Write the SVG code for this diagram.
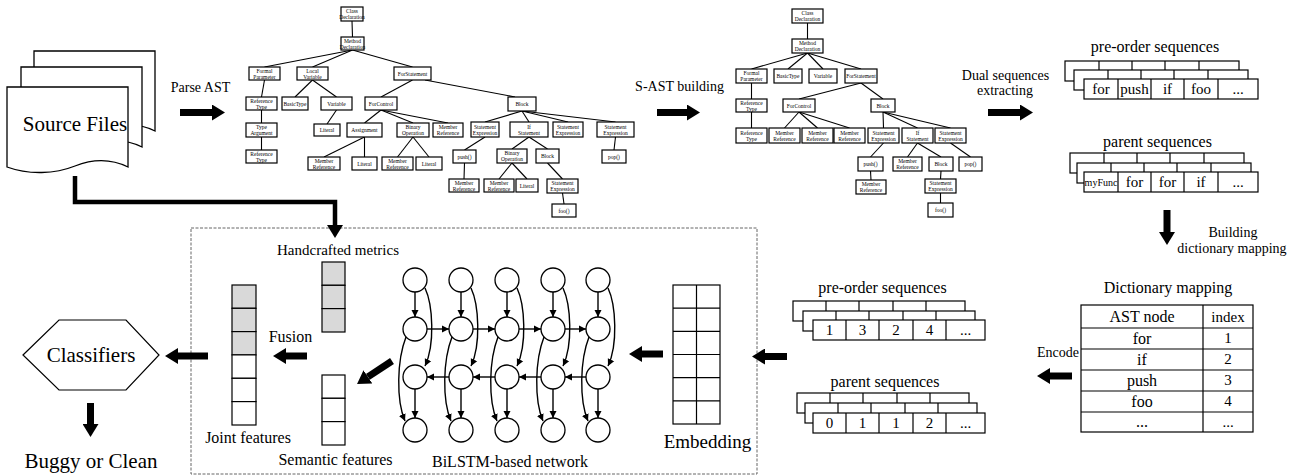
<svg xmlns="http://www.w3.org/2000/svg" width="1300" height="476" viewBox="0 0 1300 476" font-family="'Liberation Serif', 'DejaVu Serif', serif">
<defs>
<style>
text{font-family:'Liberation Serif','DejaVu Serif',serif;fill:#000}
.m{text-anchor:middle}
.tn rect{fill:#fff;stroke:#000;stroke-width:1.2}
.tn text{font-size:5.5px;text-anchor:middle}
.edges line{stroke:#000;stroke-width:1.1}
.big{stroke:#000;stroke-width:7;fill:none;marker-end:url(#ah)}
.thin{stroke:#000;stroke-width:1.4;fill:none;marker-end:url(#sa)}
.box{fill:#fff;stroke:#000;stroke-width:1.2}
.g{fill:#d9d9d9;stroke:#000;stroke-width:1.2}
.w{fill:#fff;stroke:#000;stroke-width:1.2}
.doc{fill:#fff;stroke:#000;stroke-width:1.3}
.cir{fill:#fff;stroke:#000;stroke-width:1.3}
.l16{font-size:16px}
.l14{font-size:14px}
.l21{font-size:21px}
.c15{font-size:15px;text-anchor:middle}
</style>
<marker id="ah" markerUnits="userSpaceOnUse" markerWidth="14" markerHeight="16" refX="0" refY="8" orient="auto"><path d="M0,0 L13,8 L0,16 z" fill="#000"/></marker>
<marker id="sa" markerUnits="userSpaceOnUse" markerWidth="8" markerHeight="8" refX="7" refY="4" orient="auto"><path d="M0,0.5 L7,4 L0,7.5 z" fill="#000"/></marker>
<g id="r174"><rect x="0" y="0" width="174" height="20" class="box"/><path d="M34,0V20M67,0V20M100,0V20M134,0V20" stroke="#000" stroke-width="1.2"/></g>
<g id="r172"><rect x="0" y="0" width="172" height="20" class="box"/><path d="M33,0V20M66,0V20M100,0V20M133,0V20" stroke="#000" stroke-width="1.2"/></g>
<path id="docshape" d="M0,0 H121 V80 C105,72 88,71 68,79 C48,87 22,88 0,80 Z"/>
</defs>
<rect width="1300" height="476" fill="#fff"/>

<!-- Source files -->
<g id="source-files">
<use href="#docshape" x="34" y="51" class="doc"/>
<use href="#docshape" x="21" y="67" class="doc"/>
<use href="#docshape" x="7" y="87" class="doc"/>
<text x="75" y="131" class="m l21">Source Files</text>
</g>

<!-- dashed container -->
<rect id="model-box" x="191" y="228" width="566" height="246" fill="none" stroke="#666" stroke-width="1" stroke-dasharray="3,1.5"/>

<!-- connectors -->
<g id="connectors">
<g class="edges">
<line x1="352" y1="21" x2="352.5" y2="37"/>
<line x1="352.5" y1="50" x2="264.5" y2="67"/>
<line x1="352.5" y1="50" x2="312.5" y2="67"/>
<line x1="352.5" y1="50" x2="412.5" y2="67"/>
<line x1="264.5" y1="80" x2="261.5" y2="97"/>
<line x1="261.5" y1="110" x2="261.5" y2="123"/>
<line x1="261.5" y1="137" x2="261.5" y2="150"/>
<line x1="312.5" y1="80" x2="295" y2="97"/>
<line x1="312.5" y1="80" x2="336.5" y2="97"/>
<line x1="336.5" y1="110" x2="327" y2="124"/>
<line x1="412.5" y1="80" x2="381" y2="97"/>
<line x1="425" y1="80" x2="515" y2="97"/>
<line x1="381" y1="110" x2="364.5" y2="123"/>
<line x1="381" y1="110" x2="413" y2="123"/>
<line x1="381" y1="110" x2="448" y2="123"/>
<line x1="364.5" y1="137" x2="324" y2="157"/>
<line x1="364.5" y1="137" x2="364.5" y2="157"/>
<line x1="413" y1="137" x2="397.5" y2="157"/>
<line x1="413" y1="137" x2="429" y2="157"/>
<line x1="522" y1="111" x2="485" y2="122"/>
<line x1="522" y1="111" x2="529" y2="122"/>
<line x1="522" y1="111" x2="568" y2="122"/>
<line x1="522" y1="111" x2="615.5" y2="122"/>
<line x1="485" y1="137" x2="464.5" y2="150"/>
<line x1="464.5" y1="163" x2="464" y2="179"/>
<line x1="529" y1="137" x2="512" y2="149"/>
<line x1="529" y1="137" x2="547.5" y2="149"/>
<line x1="512" y1="163" x2="499" y2="179"/>
<line x1="512" y1="163" x2="527" y2="179"/>
<line x1="547.5" y1="163" x2="562.5" y2="179"/>
<line x1="562.5" y1="193" x2="564" y2="204"/>
<line x1="615.5" y1="137" x2="614" y2="150"/>
</g>
<g class="edges">
<line x1="807.5" y1="23" x2="807.5" y2="39"/>
<line x1="807.5" y1="53" x2="751.5" y2="69"/>
<line x1="807.5" y1="53" x2="788" y2="69"/>
<line x1="807.5" y1="53" x2="823" y2="69"/>
<line x1="807.5" y1="53" x2="861" y2="69"/>
<line x1="751.5" y1="83" x2="751.5" y2="99"/>
<line x1="751.5" y1="112" x2="751.5" y2="128"/>
<line x1="861" y1="83" x2="799" y2="99"/>
<line x1="861" y1="83" x2="883" y2="99"/>
<line x1="799" y1="112" x2="784.5" y2="128"/>
<line x1="799" y1="112" x2="817.5" y2="128"/>
<line x1="799" y1="112" x2="849.5" y2="128"/>
<line x1="883" y1="112" x2="883.5" y2="128"/>
<line x1="883" y1="112" x2="917.5" y2="128"/>
<line x1="883" y1="112" x2="950.5" y2="128"/>
<line x1="883.5" y1="143" x2="870.5" y2="157"/>
<line x1="870.5" y1="171" x2="871" y2="180"/>
<line x1="917.5" y1="143" x2="907.5" y2="157"/>
<line x1="917.5" y1="143" x2="941" y2="157"/>
<line x1="941" y1="171" x2="940.5" y2="179"/>
<line x1="940.5" y1="193" x2="940.5" y2="203"/>
<line x1="950.5" y1="143" x2="970.5" y2="157"/>
</g>
<!-- big flow arrows -->
<line class="big" x1="180" y1="112.5" x2="212" y2="112.5"/>
<line class="big" x1="657" y1="112.5" x2="687" y2="112.5"/>
<line class="big" x1="988" y1="112.5" x2="1020" y2="112.5"/>
<line class="big" x1="1167" y1="210" x2="1167" y2="232"/>
<line class="big" x1="1072" y1="376" x2="1050" y2="376"/>
<line class="big" x1="787" y1="356.5" x2="765" y2="356.5"/>
<line class="big" x1="663" y1="354" x2="642" y2="354"/>
<line class="big" x1="392" y1="361" x2="367.9" y2="376.9"/>
<line class="big" x1="307" y1="356" x2="286" y2="356"/>
<line class="big" x1="208" y1="356" x2="178" y2="356"/>
<line class="big" x1="90.5" y1="403" x2="90.5" y2="424"/>
<path d="M75,176 V202 H335 V225" stroke="#000" stroke-width="4.5" fill="none" marker-end="url(#ah)"/>
<!-- BiLSTM internal arrows -->
<g id="bilstm-arrows">
<line class="thin" x1="415" y1="292" x2="415" y2="317"/><line class="thin" x1="461" y1="292" x2="461" y2="317"/><line class="thin" x1="507" y1="292" x2="507" y2="317"/><line class="thin" x1="553" y1="292" x2="553" y2="317"/><line class="thin" x1="598" y1="292" x2="598" y2="317"/>
<line class="thin" x1="415" y1="389" x2="415" y2="418"/><line class="thin" x1="461" y1="389" x2="461" y2="418"/><line class="thin" x1="507" y1="389" x2="507" y2="418"/><line class="thin" x1="553" y1="389" x2="553" y2="418"/><line class="thin" x1="598" y1="389" x2="598" y2="418"/>
<line class="thin" x1="427" y1="329" x2="449" y2="329"/><line class="thin" x1="473" y1="329" x2="495" y2="329"/><line class="thin" x1="519" y1="329" x2="541" y2="329"/><line class="thin" x1="565" y1="329" x2="586" y2="329"/>
<line class="thin" x1="449" y1="377" x2="427" y2="377"/><line class="thin" x1="495" y1="377" x2="473" y2="377"/><line class="thin" x1="541" y1="377" x2="519" y2="377"/><line class="thin" x1="586" y1="377" x2="565" y2="377"/>
<path class="thin" d="M425,288 C433,305 435,345 425,366"/><path class="thin" d="M471,288 C479,305 481,345 471,366"/><path class="thin" d="M517,288 C525,305 527,345 517,366"/><path class="thin" d="M563,288 C571,305 573,345 563,366"/><path class="thin" d="M608,288 C616,305 618,345 608,366"/>
<path class="thin" d="M406,337 C397,360 396,400 405,421"/><path class="thin" d="M452,337 C443,360 442,400 451,421"/><path class="thin" d="M498,337 C489,360 488,400 497,421"/><path class="thin" d="M544,337 C535,360 534,400 543,421"/><path class="thin" d="M589,337 C580,360 579,400 588,421"/>
</g>
</g>

<!-- flow labels -->
<text x="200.5" y="92" class="m l14">Parse AST</text>
<text x="679.5" y="91" class="m l14">S-AST building</text>
<text x="1005.5" y="80" class="m l14">Dual sequences</text>
<text x="1005" y="95" class="m l14">extracting</text>
<text x="1233" y="237" class="m l14">Building</text>
<text x="1232" y="253" class="m l14">dictionary mapping</text>
<text x="1058" y="357" class="m l14">Encode</text>

<!-- AST tree -->
<g id="ast">
<g id="ast-1" class="tn"><rect x="341" y="7" width="22" height="14"/><text x="352" y="13.2">Class</text><text x="352" y="19.2">Declaration</text></g>
<g id="ast-2" class="tn"><rect x="341" y="37" width="23" height="13"/><text x="352.5" y="42.7">Method</text><text x="352.5" y="48.7">Declaration</text></g>
<g id="ast-3" class="tn"><rect x="249" y="67" width="31" height="13"/><text x="264.5" y="72.7">Formal</text><text x="264.5" y="78.7">Parameter</text></g>
<g id="ast-4" class="tn"><rect x="297" y="67" width="31" height="13"/><text x="312.5" y="72.7">Local</text><text x="312.5" y="78.7">Variable</text></g>
<g id="ast-5" class="tn"><rect x="394" y="67" width="37" height="13"/><text x="412.5" y="75.5">ForStatement</text></g>
<g id="ast-6" class="tn"><rect x="246" y="97" width="31" height="13"/><text x="261.5" y="102.7">Reference</text><text x="261.5" y="108.7">Type</text></g>
<g id="ast-7" class="tn"><rect x="282" y="97" width="26" height="13"/><text x="295" y="105.5">BasicType</text></g>
<g id="ast-8" class="tn"><rect x="321" y="97" width="31" height="13"/><text x="336.5" y="105.5">Variable</text></g>
<g id="ast-9" class="tn"><rect x="365" y="97" width="32" height="13"/><text x="381" y="105.5">ForControl</text></g>
<g id="ast-10" class="tn"><rect x="246" y="123" width="31" height="14"/><text x="261.5" y="129.2">Type</text><text x="261.5" y="135.2">Argument</text></g>
<g id="ast-11" class="tn"><rect x="314" y="124" width="26" height="12"/><text x="327" y="132">Literal</text></g>
<g id="ast-12" class="tn"><rect x="347" y="123" width="35" height="14"/><text x="364.5" y="132">Assignment</text></g>
<g id="ast-13" class="tn"><rect x="397" y="123" width="32" height="14"/><text x="413" y="129.2">Binary</text><text x="413" y="135.2">Operation</text></g>
<g id="ast-14" class="tn"><rect x="433" y="123" width="30" height="14"/><text x="448" y="129.2">Member</text><text x="448" y="135.2">Reference</text></g>
<g id="ast-15" class="tn"><rect x="246" y="150" width="31" height="13"/><text x="261.5" y="155.7">Reference</text><text x="261.5" y="161.7">Type</text></g>
<g id="ast-16" class="tn"><rect x="308" y="157" width="32" height="13"/><text x="324" y="162.7">Member</text><text x="324" y="168.7">Reference</text></g>
<g id="ast-17" class="tn"><rect x="352" y="157" width="25" height="13"/><text x="364.5" y="165.5">Literal</text></g>
<g id="ast-18" class="tn"><rect x="382" y="157" width="31" height="13"/><text x="397.5" y="162.7">Member</text><text x="397.5" y="168.7">Reference</text></g>
<g id="ast-19" class="tn"><rect x="416" y="157" width="26" height="13"/><text x="429" y="165.5">Literal</text></g>
<g id="ast-20" class="tn"><rect x="508" y="97" width="28" height="14"/><text x="522" y="106">Block</text></g>
<g id="ast-21" class="tn"><rect x="471" y="122" width="28" height="15"/><text x="485" y="128.7">Statement</text><text x="485" y="134.7">Expression</text></g>
<g id="ast-22" class="tn"><rect x="510" y="122" width="38" height="15"/><text x="529" y="128.7">If</text><text x="529" y="134.7">Statement</text></g>
<g id="ast-23" class="tn"><rect x="553" y="122" width="30" height="15"/><text x="568" y="128.7">Statement</text><text x="568" y="134.7">Expression</text></g>
<g id="ast-24" class="tn"><rect x="597" y="122" width="37" height="15"/><text x="615.5" y="128.7">Statement</text><text x="615.5" y="134.7">Expression</text></g>
<g id="ast-25" class="tn"><rect x="453" y="150" width="23" height="13"/><text x="464.5" y="158.5">push()</text></g>
<g id="ast-26" class="tn"><rect x="497" y="149" width="30" height="14"/><text x="512" y="155.2">Binary</text><text x="512" y="161.2">Operation</text></g>
<g id="ast-27" class="tn"><rect x="536" y="149" width="23" height="14"/><text x="547.5" y="158">Block</text></g>
<g id="ast-28" class="tn"><rect x="602" y="150" width="24" height="13"/><text x="614" y="158.5">pop()</text></g>
<g id="ast-29" class="tn"><rect x="449" y="179" width="30" height="13"/><text x="464" y="184.7">Member</text><text x="464" y="190.7">Reference</text></g>
<g id="ast-30" class="tn"><rect x="484" y="179" width="30" height="13"/><text x="499" y="184.7">Member</text><text x="499" y="190.7">Reference</text></g>
<g id="ast-31" class="tn"><rect x="516" y="179" width="22" height="13"/><text x="527" y="187.5">Literal</text></g>
<g id="ast-32" class="tn"><rect x="547" y="179" width="31" height="14"/><text x="562.5" y="185.2">Statement</text><text x="562.5" y="191.2">Expression</text></g>
<g id="ast-33" class="tn"><rect x="552" y="204" width="24" height="13"/><text x="564" y="212.5">foo()</text></g>
</g>

<!-- S-AST tree -->
<g id="sast">
<g id="sast-1" class="tn"><rect x="792" y="9" width="31" height="14"/><text x="807.5" y="15.2">Class</text><text x="807.5" y="21.2">Declaration</text></g>
<g id="sast-2" class="tn"><rect x="792" y="39" width="31" height="14"/><text x="807.5" y="45.2">Method</text><text x="807.5" y="51.2">Declaration</text></g>
<g id="sast-3" class="tn"><rect x="736" y="69" width="31" height="14"/><text x="751.5" y="75.2">Formal</text><text x="751.5" y="81.2">Parameter</text></g>
<g id="sast-4" class="tn"><rect x="774" y="69" width="28" height="14"/><text x="788" y="78">BasicType</text></g>
<g id="sast-5" class="tn"><rect x="809" y="69" width="28" height="14"/><text x="823" y="78">Variable</text></g>
<g id="sast-6" class="tn"><rect x="845" y="69" width="32" height="14"/><text x="861" y="78">ForStatement</text></g>
<g id="sast-7" class="tn"><rect x="736" y="99" width="31" height="13"/><text x="751.5" y="104.7">Reference</text><text x="751.5" y="110.7">Type</text></g>
<g id="sast-8" class="tn"><rect x="783" y="99" width="32" height="13"/><text x="799" y="107.5">ForControl</text></g>
<g id="sast-9" class="tn"><rect x="871" y="99" width="24" height="13"/><text x="883" y="107.5">Block</text></g>
<g id="sast-10" class="tn"><rect x="736" y="128" width="31" height="15"/><text x="751.5" y="134.7">Reference</text><text x="751.5" y="140.7">Type</text></g>
<g id="sast-11" class="tn"><rect x="769" y="128" width="31" height="15"/><text x="784.5" y="134.7">Member</text><text x="784.5" y="140.7">Reference</text></g>
<g id="sast-12" class="tn"><rect x="802" y="128" width="31" height="15"/><text x="817.5" y="134.7">Member</text><text x="817.5" y="140.7">Reference</text></g>
<g id="sast-13" class="tn"><rect x="834" y="128" width="31" height="15"/><text x="849.5" y="134.7">Member</text><text x="849.5" y="140.7">Reference</text></g>
<g id="sast-14" class="tn"><rect x="868" y="128" width="31" height="15"/><text x="883.5" y="134.7">Statement</text><text x="883.5" y="140.7">Expression</text></g>
<g id="sast-15" class="tn"><rect x="902" y="128" width="31" height="15"/><text x="917.5" y="134.7">If</text><text x="917.5" y="140.7">Statement</text></g>
<g id="sast-16" class="tn"><rect x="935" y="128" width="31" height="15"/><text x="950.5" y="134.7">Statement</text><text x="950.5" y="140.7">Expression</text></g>
<g id="sast-17" class="tn"><rect x="858" y="157" width="25" height="14"/><text x="870.5" y="166">push()</text></g>
<g id="sast-18" class="tn"><rect x="893" y="157" width="29" height="14"/><text x="907.5" y="163.2">Member</text><text x="907.5" y="169.2">Reference</text></g>
<g id="sast-19" class="tn"><rect x="929" y="157" width="24" height="14"/><text x="941" y="166">Block</text></g>
<g id="sast-20" class="tn"><rect x="959" y="157" width="23" height="14"/><text x="970.5" y="166">pop()</text></g>
<g id="sast-21" class="tn"><rect x="856" y="180" width="30" height="14"/><text x="871" y="186.2">Member</text><text x="871" y="192.2">Reference</text></g>
<g id="sast-22" class="tn"><rect x="925" y="179" width="31" height="14"/><text x="940.5" y="185.2">Statement</text><text x="940.5" y="191.2">Expression</text></g>
<g id="sast-23" class="tn"><rect x="928" y="203" width="25" height="14"/><text x="940.5" y="212">foo()</text></g>
</g>

<!-- top-right sequences -->
<g id="seq-preorder-tokens">
<text x="1155" y="52" class="m l16">pre-order sequences</text>
<use href="#r174" x="1065" y="61"/>
<use href="#r174" x="1074" y="70"/>
<use href="#r174" x="1084" y="79"/>
<text x="1101" y="94" class="c15">for</text><text x="1134.5" y="94" class="c15">push</text><text x="1167.5" y="94" class="c15">if</text><text x="1201" y="94" class="c15">foo</text><text x="1238" y="94" class="c15">...</text>
</g>
<g id="seq-parent-tokens">
<text x="1157.5" y="147" class="m l16">parent sequences</text>
<use href="#r174" x="1070" y="153"/>
<use href="#r174" x="1077" y="163"/>
<use href="#r174" x="1084" y="172"/>
<text x="1101" y="186" font-size="10" class="m">myFunc</text><text x="1134.5" y="187" class="c15">for</text><text x="1167.5" y="187" class="c15">for</text><text x="1201" y="187" class="c15">if</text><text x="1238" y="187" class="c15">...</text>
</g>

<!-- dictionary -->
<g id="dictionary">
<text x="1168" y="293" class="m l16">Dictionary mapping</text>
<rect x="1081" y="305" width="172" height="127" class="w"/>
<path d="M1203,305V432M1081,328H1253M1081,349H1253M1081,370H1253M1081,391H1253M1081,412H1253" stroke="#000" stroke-width="1.2"/>
<text x="1142" y="322" class="m l16">AST node</text><text x="1228" y="322" class="c15">index</text>
<text x="1142" y="344" class="m l16">for</text><text x="1228" y="343" class="c15">1</text>
<text x="1142" y="365" class="m l16">if</text><text x="1228" y="364" class="c15">2</text>
<text x="1142" y="386" class="m l16">push</text><text x="1228" y="385" class="c15">3</text>
<text x="1142" y="407" class="m l16">foo</text><text x="1228" y="406" class="c15">4</text>
<text x="1142" y="427" class="m l16">...</text><text x="1228" y="427" class="c15">...</text>
</g>

<!-- encoded sequences -->
<g id="seq-preorder-ids">
<text x="882.5" y="293" class="m l16">pre-order sequences</text>
<use href="#r172" x="793" y="301"/>
<use href="#r172" x="803" y="311"/>
<use href="#r172" x="813" y="320"/>
<text x="829.5" y="335" class="c15">1</text><text x="862.5" y="335" class="c15">3</text><text x="896" y="335" class="c15">2</text><text x="929.5" y="335" class="c15">4</text><text x="965.5" y="335" class="c15">...</text>
</g>
<g id="seq-parent-ids">
<text x="885" y="387" class="m l16">parent sequences</text>
<use href="#r172" x="797" y="393"/>
<use href="#r172" x="805" y="403"/>
<use href="#r172" x="813" y="413"/>
<text x="829.5" y="428" class="c15">0</text><text x="862.5" y="428" class="c15">1</text><text x="896" y="428" class="c15">1</text><text x="929.5" y="428" class="c15">2</text><text x="965.5" y="428" class="c15">...</text>
</g>

<!-- embedding -->
<g id="embedding">
<rect x="673" y="285" width="47" height="139" class="w"/>
<path d="M696.5,285V424M673,308.2H720M673,331.3H720M673,354.5H720M673,377.7H720M673,400.8H720" stroke="#000" stroke-width="1.2"/>
<text x="707.5" y="448" font-size="19" class="m">Embedding</text>
</g>

<!-- BiLSTM -->
<g id="bilstm">
<circle cx="415" cy="280" r="12" class="cir"/><circle cx="461" cy="280" r="12" class="cir"/><circle cx="507" cy="280" r="12" class="cir"/><circle cx="553" cy="280" r="12" class="cir"/><circle cx="598" cy="280" r="12" class="cir"/>
<circle cx="415" cy="329" r="12" class="cir"/><circle cx="461" cy="329" r="12" class="cir"/><circle cx="507" cy="329" r="12" class="cir"/><circle cx="553" cy="329" r="12" class="cir"/><circle cx="598" cy="329" r="12" class="cir"/>
<circle cx="415" cy="377" r="12" class="cir"/><circle cx="461" cy="377" r="12" class="cir"/><circle cx="507" cy="377" r="12" class="cir"/><circle cx="553" cy="377" r="12" class="cir"/><circle cx="598" cy="377" r="12" class="cir"/>
<circle cx="415" cy="430" r="12" class="cir"/><circle cx="461" cy="430" r="12" class="cir"/><circle cx="507" cy="430" r="12" class="cir"/><circle cx="553" cy="430" r="12" class="cir"/><circle cx="598" cy="430" r="12" class="cir"/>
<text x="510" y="467" class="m l16">BiLSTM-based network</text>
</g>

<!-- features -->
<g id="handcrafted">
<text x="338" y="255" font-size="15" class="m">Handcrafted metrics</text>
<rect x="322" y="262" width="23" height="23.3" class="g"/><rect x="322" y="285.3" width="23" height="23.3" class="g"/><rect x="322" y="308.6" width="23" height="23.4" class="g"/>
</g>
<g id="semantic">
<rect x="322" y="375" width="23" height="23.3" class="w"/><rect x="322" y="398.3" width="23" height="23.3" class="w"/><rect x="322" y="421.6" width="23" height="23.4" class="w"/>
<text x="335.5" y="465" class="m l16">Semantic features</text>
</g>
<g id="joint">
<rect x="232" y="285" width="24" height="23.3" class="g"/><rect x="232" y="308.3" width="24" height="23.3" class="g"/><rect x="232" y="331.6" width="24" height="23.3" class="g"/>
<rect x="232" y="354.9" width="24" height="23.4" class="w"/><rect x="232" y="378.3" width="24" height="23.3" class="w"/><rect x="232" y="401.6" width="24" height="23.4" class="w"/>
<text x="248" y="443" class="m l16">Joint features</text>
</g>
<text x="290.5" y="342" class="m l16">Fusion</text>

<!-- classifier -->
<g id="classifiers">
<polygon points="23,355 59,320 126,320 159,355 126,390 59,390" fill="#fff" stroke="#000" stroke-width="1.2"/>
<text x="91" y="362" class="m l21">Classifiers</text>
</g>
<g id="result">
<text x="91" y="468" class="m l21">Buggy or Clean</text>
</g>
</svg>
